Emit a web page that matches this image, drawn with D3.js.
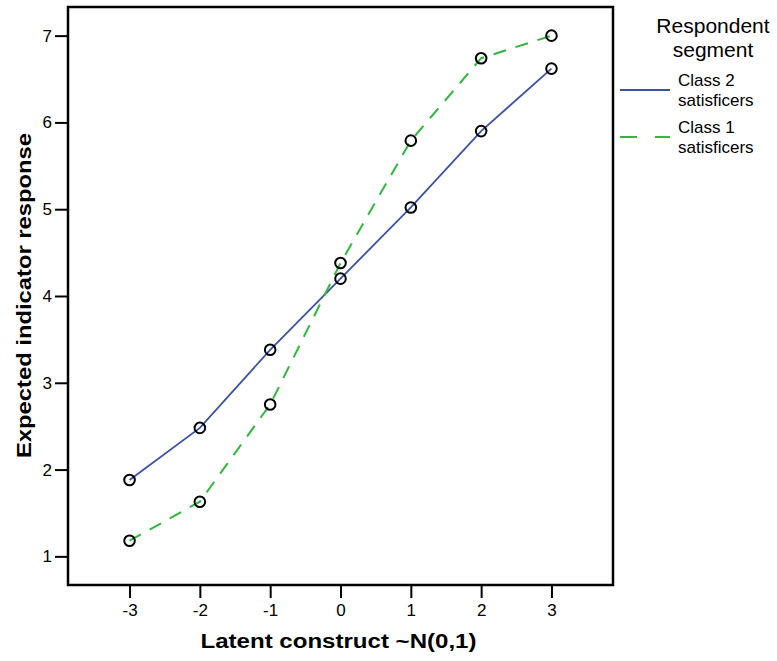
<!DOCTYPE html>
<html>
<head>
<meta charset="utf-8">
<script src="https://cdn.jsdelivr.net/npm/d3@7"></script>
<style>
  html, body { margin: 0; padding: 0; background: #fff; }
  svg { display: block; font-family: Arial, "Liberation Sans", sans-serif; }
</style>
</head>
<body>
<svg id="chart" width="777" height="661"></svg>
<script>
// Latent construct levels (x) and expected indicator responses per segment
const latentLevels = [-3, -2, -1, 0, 1, 2, 3];
const class2Values = [1.88, 2.48, 3.38, 4.20, 5.02, 5.90, 6.62];
const class1Values = [1.18, 1.63, 2.75, 4.38, 5.79, 6.74, 7.00];
const xTickValues = [-3, -2, -1, 0, 1, 2, 3];
const yTickValues = [1, 2, 3, 4, 5, 6, 7];
const seriesNames = ["Class 2 satisficers", "Class 1 satisficers"];

const svg = d3.select("#chart");
const frame = { left: 68, right: 613, top: 7, bottom: 585 };

const x = d3.scaleLinear().domain([-3.875, 3.875]).range([frame.left, frame.right]);
const y = d3.scaleLinear().domain([0.67, 7.33]).range([frame.bottom, frame.top]);

const series = [
  { name: seriesNames[0], values: class2Values, color: "#3a52a8", width: 1.8, dash: null, legendDash: null },
  { name: seriesNames[1], values: class1Values, color: "#2fb83c", width: 2, dash: "13,10", legendDash: "17,18" }
];

// Axes (plain hyphen for negative labels)
const plain = d => String(d);
const yAxis = d3.axisLeft(y).tickValues(yTickValues).tickSize(13).tickPadding(3).tickFormat(plain);
const xAxis = d3.axisBottom(x).tickValues(xTickValues).tickSize(13).tickPadding(6).tickFormat(plain);

const gy = svg.append("g").attr("transform", `translate(${frame.left},0)`).call(yAxis);
const gx = svg.append("g").attr("transform", `translate(0,${frame.bottom})`).call(xAxis);
[gy, gx].forEach(g => {
  g.attr("font-size", null).attr("font-family", null);
  g.select(".domain").remove();
  g.selectAll(".tick line").attr("stroke", "#000").attr("stroke-width", 2);
  g.selectAll(".tick text").attr("fill", "#000")
    .style("font-size", "17px")
    .style("font-family", "Arial, 'Liberation Sans', sans-serif");
});

// Plot frame
svg.append("rect")
  .attr("x", frame.left).attr("y", frame.top)
  .attr("width", frame.right - frame.left).attr("height", frame.bottom - frame.top)
  .attr("fill", "none").attr("stroke", "#000").attr("stroke-width", 2.5);

// Lines
const line = d3.line().x((d, i) => x(latentLevels[i])).y(d => y(d));
series.forEach(s => {
  svg.append("path")
    .datum(s.values)
    .attr("d", line)
    .attr("fill", "none")
    .attr("stroke", s.color)
    .attr("stroke-width", s.width)
    .attr("stroke-dasharray", s.dash);
});

// Point markers
series.forEach(s => {
  svg.append("g").selectAll("circle")
    .data(s.values)
    .join("circle")
    .attr("cx", (d, i) => x(latentLevels[i]))
    .attr("cy", d => y(d))
    .attr("r", 5.3)
    .attr("fill", "none")
    .attr("stroke", "#000")
    .attr("stroke-width", 2);
});

// Axis titles
svg.append("text")
  .attr("x", (frame.left + frame.right) / 2 - 2)
  .attr("y", 648)
  .attr("text-anchor", "middle")
  .attr("textLength", 276)
  .attr("lengthAdjust", "spacingAndGlyphs")
  .style("font-size", "20px").style("font-weight", "bold")
  .text("Latent construct ~N(0,1)");

svg.append("text")
  .attr("transform", `translate(31,${(133 + 458) / 2}) rotate(-90)`)
  .attr("text-anchor", "middle")
  .attr("textLength", 325)
  .attr("lengthAdjust", "spacingAndGlyphs")
  .style("font-size", "21px").style("font-weight", "bold")
  .text("Expected indicator response");

// Legend
const legend = svg.append("g");
legend.append("text").attr("x", 713).attr("y", 33).attr("text-anchor", "middle")
  .style("font-size", "21px").text("Respondent");
legend.append("text").attr("x", 713).attr("y", 57).attr("text-anchor", "middle")
  .style("font-size", "21px").text("segment");

const legendRows = [
  { s: series[0], yLine: 90, yText: [86, 106], lines: ["Class 2", "satisficers"] },
  { s: series[1], yLine: 137, yText: [133, 153], lines: ["Class 1", "satisficers"] }
];
legendRows.forEach(r => {
  legend.append("line")
    .attr("x1", 620).attr("x2", 670).attr("y1", r.yLine).attr("y2", r.yLine)
    .attr("stroke", r.s.color).attr("stroke-width", r.s.width)
    .attr("stroke-dasharray", r.s.legendDash);
  r.lines.forEach((t, i) => {
    legend.append("text").attr("x", 678).attr("y", r.yText[i])
      .style("font-size", "17px").text(t);
  });
});
</script>
</body>
</html>
